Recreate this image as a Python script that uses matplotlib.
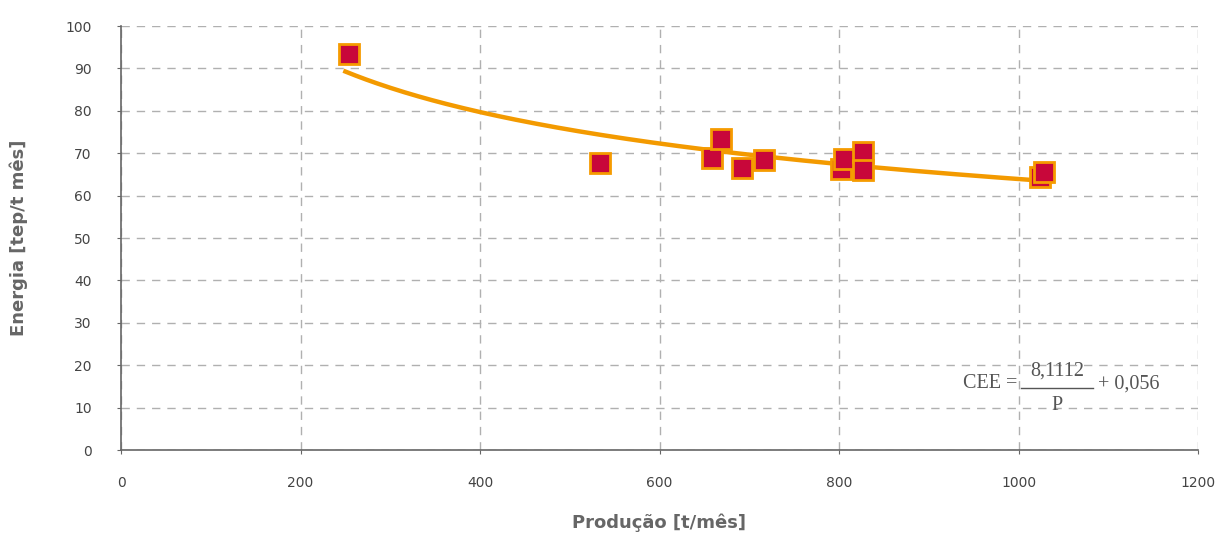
import numpy as np
import matplotlib
matplotlib.use("Agg")
import matplotlib.pyplot as plt
from matplotlib.lines import Line2D

# Dados
producao = [254, 534, 658, 669, 692, 716, 802, 806, 827, 827, 1024, 1028]
energia = [93.4, 67.8, 68.9, 73.4, 66.6, 68.4, 66.2, 68.6, 70.4, 66.1, 64.5, 65.6]

xticks = [0, 200, 400, 600, 800, 1000, 1200]
yticks = [0, 10, 20, 30, 40, 50, 60, 70, 80, 90, 100]

# Linha de tendência (potência) ajustada aos pontos
b, loga = np.polyfit(np.log(producao), np.log(energia), 1)
xt = np.linspace(min(producao) - 4, 1020, 200)
yt = np.exp(loga) * xt ** b

W, H = 1231, 534
fig = plt.figure(figsize=(W / 100, H / 100), dpi=100)
ax = fig.add_axes([121 / W, 1 - 450 / H, (1198 - 121) / W, (450 - 26) / H])

grey = '#666666'
ax.grid(True, linestyle=(0, (6, 5)), color='#b0b0b0', linewidth=1)
ax.set_axisbelow(True)

ax.plot(xt, yt, color='#F39A00', linewidth=3.2, zorder=2)
ax.plot(producao, energia, linestyle='none', marker='s', markersize=14,
        markerfacecolor='#C8073A', markeredgecolor='#F59B00', markeredgewidth=2, zorder=3)

ax.set_xlim(0, 1200)
ax.set_ylim(0, 100)
ax.set_xticks(xticks)
ax.set_yticks(yticks)
ax.tick_params(axis='both', colors=grey, labelcolor='#444444', labelsize=10, length=3)
ax.tick_params(axis='x', pad=16)
ax.tick_params(axis='y', pad=18)

for s in ['top', 'right']:
    ax.spines[s].set_visible(False)
for s in ['left', 'bottom']:
    ax.spines[s].set_color(grey)
    ax.spines[s].set_linewidth(1.2)

ax.set_xlabel('Produção [t/mês]', fontsize=13, fontweight='bold', color=grey, labelpad=17)
ax.set_ylabel('Energia [tep/t mês]', fontsize=13, fontweight='bold', color=grey, labelpad=27)

# Equação
def fx(px):
    return px / W

def fy(py):
    return 1 - py / H

serif = 'Liberation Serif'
eq_color = '#555555'
fig.text(fx(1017), fy(384), 'CEE =', family=serif, fontsize=14.5, color=eq_color, ha='right', va='center')
fig.text(fx(1057), fy(371), '8,1112', family=serif, fontsize=14.5, color=eq_color, ha='center', va='center')
fig.text(fx(1057), fy(405), 'P', family=serif, fontsize=14.5, color=eq_color, ha='center', va='center')
fig.text(fx(1098), fy(384), '+ 0,056', family=serif, fontsize=14.5, color=eq_color, ha='left', va='center')
fig.add_artist(Line2D([fx(1021), fx(1093)], [fy(388), fy(388)], transform=fig.transFigure,
                      color=eq_color, linewidth=1))

fig.savefig('out.png', dpi=100)
